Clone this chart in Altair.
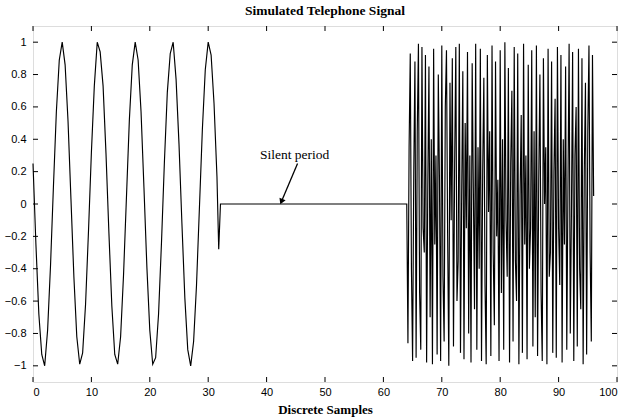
import altair as alt
import pandas as pd

# ---- data ----
# Segment 1: low tone, one value every 0.5 samples from 0 to 31.5, then the cut at 31.8
tone_y = [0.25, -0.25, -0.68, -0.93, -1.00, -0.78, -0.38, 0.11, 0.57, 0.89,
          1.00, 0.86, 0.51, 0.03, -0.45, -0.82, -0.99, -0.92, -0.62, -0.17,
          0.32, 0.73, 1.00, 0.94, 0.73, 0.31, -0.18, -0.63, -0.93, -0.99,
          -0.82, -0.44, 0.04, 0.52, 0.86, 1.00, 0.89, 0.57, 0.10, -0.39,
          -0.78, -0.99, -0.95, -0.68, -0.24, 0.26, 0.69, 0.93, 1.00, 0.77,
          0.37, -0.12, -0.58, -0.90, -1.00, -0.85, -0.50, -0.02, 0.46, 0.83,
          1.00, 0.92, 0.62, 0.17, -0.28]
tone_step = 0.5
tone_end_x = 31.8

# Segment 2: silent period
silent_x = [32.1, 64.0]
silent_y = [0.0, 0.0]

# Segment 3: high two-tone burst, one value every 0.2 samples from 64 to 96
burst_y = [0.00, -0.86, 0.35, 0.93, -0.40, -0.97, 0.20, 0.88, -0.95, 0.45,
           0.99, -0.55, -0.90, 0.97, -0.15, -0.30, 0.92, -0.98, 0.10, 0.85,
           -0.70, 0.40, -0.99, 0.96, -0.25, 0.30, -0.93, 0.80, 0.15, -0.97,
           0.98, -0.45, -0.85, 0.60, 0.95, -0.20, -1.00, 0.75, -0.10, 0.90,
           -0.88, 0.25, 0.97, -0.60, -0.35, 0.99, -0.92, 0.05, 0.82, -0.96,
           0.50, -0.15, 0.94, -0.80, 0.30, -0.98, 0.87, 0.10, -0.65, 0.99,
           -0.90, 0.35, -0.40, 0.96, -0.97, 0.20, 0.78, -0.50, -0.99, 0.92,
           -0.05, 0.45, -0.94, 0.98, -0.30, -0.75, 0.88, -0.20, 0.15, -0.97,
           0.95, -0.55, 0.40, -0.90, 1.00, -0.10, -0.45, 0.84, -0.98, 0.25,
           0.70, -0.85, 0.97, -0.35, -0.60, 0.93, -0.99, 0.05, 0.55, -0.92,
           0.99, -0.25, 0.30, -0.96, 0.86, -0.40, -0.15, 0.95, -0.88, 0.45,
           -0.70, 0.98, -0.94, 0.15, 0.80, -0.55, -0.97, 0.90, 0.00, 0.35,
           -0.99, 0.96, -0.45, -0.30, 0.88, -0.92, 0.20, 0.65, -0.95, 0.97,
           -0.15, -0.50, 0.92, -0.98, 0.40, -0.25, 0.85, -0.90, 0.10, 0.99,
           -0.80, -0.05, 0.94, -0.97, 0.30, 0.60, -0.88, 0.96, -0.40, -0.65,
           0.90, -0.99, 0.20, 0.75, -0.93, 0.45, 0.98, -0.30, -0.85, 0.92,
           0.05]
burst_start = 64.0
burst_step = 0.2

x_ticks = [0, 10, 20, 30, 40, 50, 60, 70, 80, 90, 100]
y_ticks = [-1, -0.8, -0.6, -0.4, -0.2, 0, 0.2, 0.4, 0.6, 0.8, 1]

note_text = ["Silent period"]
note_x = [44.8]
note_y = [0.30]
arrow_x = [45.3]
arrow_y = [0.25]
arrow_x2 = [42.6]
arrow_y2 = [0.02]

# ---- table ----
xs = [i * tone_step for i in range(len(tone_y) - 1)] + [tone_end_x]
ys = list(tone_y)
xs += silent_x
ys += silent_y
xs += [burst_start + i * burst_step for i in range(len(burst_y))]
ys += burst_y
sig = pd.DataFrame({"x": xs, "y": ys, "o": list(range(len(xs)))})

W, H = 584, 356
xscale = alt.Scale(domain=[0, 100], nice=False, zero=False)
yscale = alt.Scale(domain=[-1.1, 1.1], nice=False, zero=False)

X_AXIS = alt.Axis(values=x_ticks, title="Discrete Samples", ticks=False,
                  domain=False, grid=False, labelFont="Liberation Sans",
                  labelFontSize=11, labelColor="black", labelPadding=4,
                  labelOverlap=False,
                  titleFont="Liberation Serif", titleFontSize=13,
                  titleFontWeight="bold", titleColor="black", titlePadding=6)
Y_AXIS = alt.Axis(values=y_ticks, title=None, ticks=False, domain=False,
                  grid=False, format="~g", labelFont="Liberation Sans",
                  labelFontSize=11, labelColor="black", labelPadding=7,
                  labelOverlap=False)


def X(f):
    return alt.X(f, scale=xscale, axis=X_AXIS, title="Discrete Samples")


def Y(f):
    return alt.Y(f, scale=yscale, axis=Y_AXIS, title=None)


line = alt.Chart(sig).mark_line(color="black", strokeWidth=1.15).encode(
    x=X("x:Q"), y=Y("y:Q"), order="o:Q")

xt = pd.DataFrame({"v": x_ticks})
yt = pd.DataFrame({"v": y_ticks})
tk = 5
bottom_ticks = alt.Chart(xt).mark_rule(color="black", strokeWidth=1).encode(
    x=X("v:Q"), y=alt.value(H), y2=alt.value(H - tk))
top_ticks = alt.Chart(xt).mark_rule(color="black", strokeWidth=1).encode(
    x=X("v:Q"), y=alt.value(0), y2=alt.value(tk))
left_ticks = alt.Chart(yt).mark_rule(color="black", strokeWidth=1).encode(
    y=Y("v:Q"), x=alt.value(0), x2=alt.value(tk))
right_ticks = alt.Chart(yt).mark_rule(color="black", strokeWidth=1).encode(
    y=Y("v:Q"), x=alt.value(W), x2=alt.value(W - tk))

note = alt.Chart(pd.DataFrame({"t": note_text, "x": note_x, "y": note_y})).mark_text(
    font="Liberation Serif", fontSize=13.5, color="black").encode(
    x=X("x:Q"), y=Y("y:Q"), text="t:N")

arr = pd.DataFrame({"x": arrow_x, "y": arrow_y, "x2": arrow_x2, "y2": arrow_y2})
arrow_line = alt.Chart(arr).mark_rule(color="black", strokeWidth=1.3).encode(
    x=X("x:Q"), y=Y("y:Q"), x2="x2:Q", y2="y2:Q")
arrow_head = alt.Chart(arr).mark_point(shape="triangle", filled=True, color="black",
                                       size=45, angle=203, opacity=1).encode(
    x=X("x2:Q"), y=Y("y2:Q"))

chart = alt.layer(
    line, bottom_ticks, top_ticks, left_ticks, right_ticks, note, arrow_line, arrow_head
).properties(
    width=W, height=H,
    title=alt.Title("Simulated Telephone Signal", font="Liberation Serif", fontSize=13.5,
                    fontWeight="bold", color="black", offset=8, anchor="middle"),
    padding={"left": 33, "top": 26, "right": 12, "bottom": 38},
    autosize=alt.AutoSizeParams(type="none"),
).configure_view(stroke="black", strokeWidth=1).configure(background="white")

chart.save("out.html", embed_options={"renderer": "svg", "actions": False})
